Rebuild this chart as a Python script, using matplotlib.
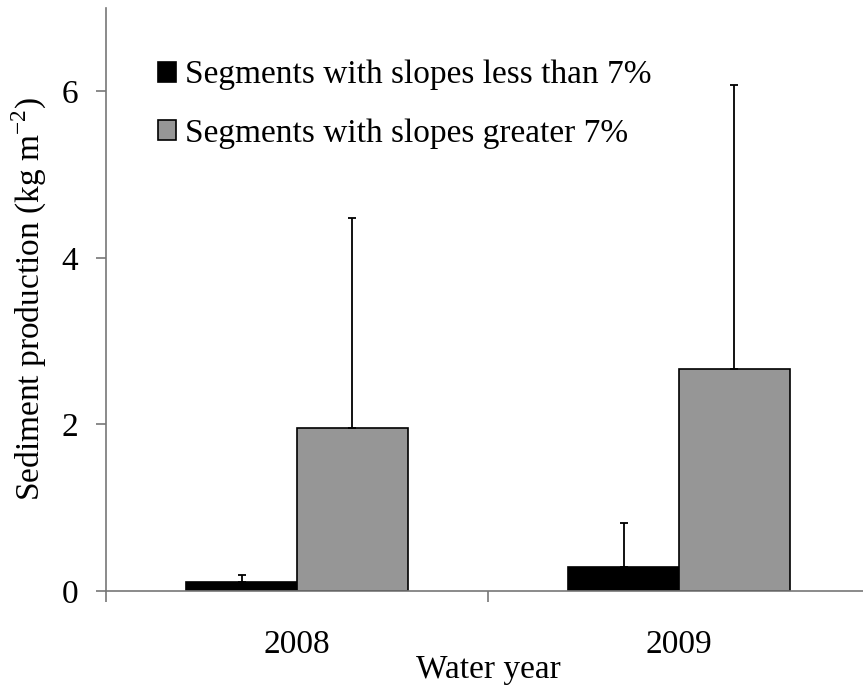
import matplotlib
matplotlib.use("Agg")
import matplotlib.pyplot as plt
import numpy as np

# data
years = ["2008", "2009"]
low_slope = [0.11, 0.29]
low_slope_err = [0.08, 0.53]
high_slope = [1.96, 2.66]
high_slope_err = [2.52, 3.42]
series_labels = ["Segments with slopes less than 7%", "Segments with slopes greater 7%"]

plt.rcParams['font.family'] = ['Liberation Serif', 'DejaVu Serif']
plt.rcParams['mathtext.fontset'] = 'custom'
plt.rcParams['mathtext.rm'] = 'Liberation Serif'
fs = 24

fig = plt.figure(figsize=(8.63, 6.91), dpi=100)
ax = fig.add_axes([106/863, 100/691, 764/863, 583/691])

x = np.arange(len(years))
w = 0.29
zeros = [0, 0]
ax.bar(x - w/2, low_slope, w, color='black', edgecolor='black', linewidth=1.2,
       yerr=[zeros, low_slope_err], capsize=3,
       error_kw=dict(elinewidth=1.3, capthick=1.3, ecolor='black'),
       label=series_labels[0])
ax.bar(x + w/2, high_slope, w, color='#969696', edgecolor='black', linewidth=1.2,
       yerr=[zeros, high_slope_err], capsize=3,
       error_kw=dict(elinewidth=1.3, capthick=1.3, ecolor='black'),
       label=series_labels[1])

ax.set_xlim(-0.5, 1.5)
ax.set_ylim(0, 7)
ax.set_yticks([0, 2, 4, 6])
ax.set_xticks([-0.5, 0.5, 1.5])
ax.set_xticklabels([])
ax.set_xticks(x, minor=True)
ax.set_xticklabels(years, minor=True)
ax.tick_params(axis='x', which='minor', length=0, pad=28, labelsize=fs)
ax.tick_params(axis='x', which='major', direction='out', length=8, color='#777777', width=1.2)
ax.tick_params(axis='y', direction='out', length=7, color='#777777', width=1.2, labelsize=fs, pad=13)

for s in ['top', 'right']:
    ax.spines[s].set_visible(False)
for s in ['left', 'bottom']:
    ax.spines[s].set_color('#777777')
    ax.spines[s].set_linewidth(1.2)

ax.set_xlabel("Water year", fontsize=fs, labelpad=-4)
ax.set_ylabel("Sediment production (kg m$^{\\mathregular{-2}}$)", fontsize=fs)
ax.yaxis.set_label_coords(-0.074, 0.5)

ax.legend(loc='upper left', bbox_to_anchor=(158/863, 1 - 60/691), bbox_transform=fig.transFigure,
          frameon=False, fontsize=fs, handlelength=0.55, handleheight=0.55,
          handletextpad=0.27, labelspacing=0.84, borderpad=0, borderaxespad=0)

fig.savefig("out.png", dpi=100)
